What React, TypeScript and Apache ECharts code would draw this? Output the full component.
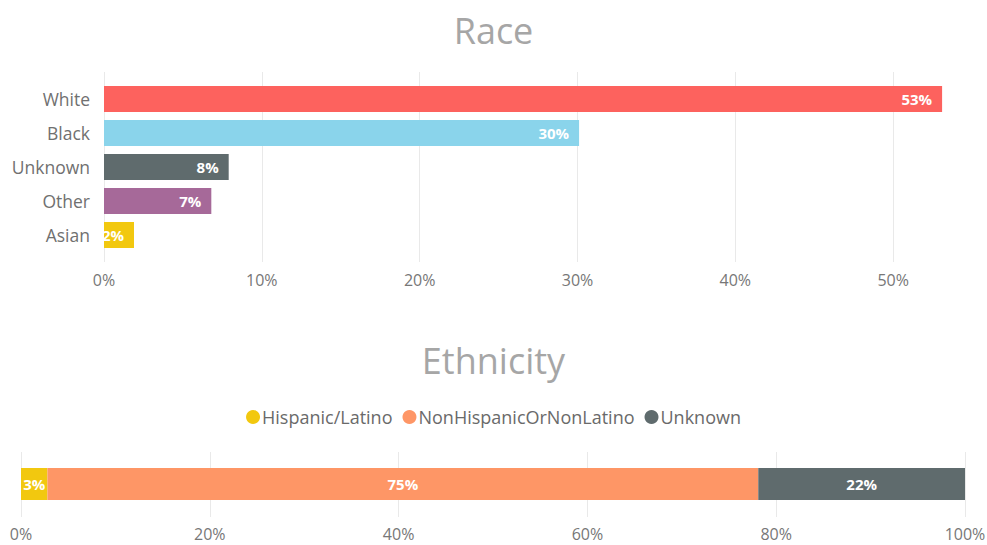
import React, { useEffect, useRef } from "react";
import * as echarts from "echarts";

const raceCategories = ["White", "Black", "Unknown", "Other", "Asian"];
const raceValues = [53.1, 30.1, 7.9, 6.8, 1.9];
const raceColors = ["#FD625E", "#8AD4EB", "#5F6B6D", "#A66999", "#F2C80F"];
const raceTicks = [0, 10, 20, 30, 40, 50, 60];

const ethnicityNames = ["Hispanic/Latino", "NonHispanicOrNonLatino", "Unknown"];
const ethnicityValues = [2.8, 75.3, 21.9];
const ethnicityColors = ["#F2C80F", "#FE9666", "#5F6B6D"];
const ethnicityTicks = [0, 20, 40, 60, 80, 100];

const FONT = "'Open Sans', 'Noto Sans', sans-serif";

export default function App() {
  const ref = useRef<HTMLDivElement>(null);
  useEffect(() => {
    if (!ref.current) return;
    const chart = echarts.init(ref.current, null, { renderer: "svg" });
    const axisLabel = { color: "#777", fontSize: 16, fontFamily: FONT, formatter: "{value}%" };
    const split = { show: true, lineStyle: { color: "#E9E9E9", width: 1 } };
    const option: any = {
      animation: false,
      backgroundColor: "#fff",
      title: [
        {
          text: "Race",
          left: "center",
          top: 7,
          textStyle: { color: "#A6A6A6", fontSize: 36, fontWeight: "normal", fontFamily: FONT },
        },
        {
          text: "Ethnicity",
          left: "center",
          top: 337,
          textStyle: { color: "#A6A6A6", fontSize: 36, fontWeight: "normal", fontFamily: FONT },
        },
      ],
      legend: {
        data: ethnicityNames,
        left: "center",
        top: 403,
        icon: "circle",
        itemWidth: 14,
        itemHeight: 14,
        itemGap: 10,
        textStyle: { color: "#6A6A6A", fontSize: 18, fontFamily: FONT, padding: [0, 0, 0, -3] },
      },
      grid: [
        { left: 104, top: 72, width: 947, height: 190, outerBoundsMode: "none" },
        { left: 104, top: 82, width: 947, height: 170, outerBoundsMode: "none" },
        { left: 21, top: 452, width: 944, height: 65, outerBoundsMode: "none" },
        { left: 21, top: 468, width: 944, height: 32, outerBoundsMode: "none" },
      ],
      xAxis: [
        {
          gridIndex: 0,
          type: "value",
          min: raceTicks[0],
          max: raceTicks[raceTicks.length - 1],
          interval: 10,
          axisLine: { show: false },
          axisTick: { show: false },
          axisLabel: { ...axisLabel, margin: 10, showMaxLabel: false },
          splitLine: split,
        },
        {
          gridIndex: 1,
          type: "value",
          min: raceTicks[0],
          max: raceTicks[raceTicks.length - 1],
          show: false,
          splitLine: { show: false },
        },
        {
          gridIndex: 2,
          type: "value",
          min: ethnicityTicks[0],
          max: ethnicityTicks[ethnicityTicks.length - 1],
          interval: 20,
          axisLine: { show: false },
          axisTick: { show: false },
          axisLabel: { ...axisLabel, margin: 9 },
          splitLine: split,
        },
        {
          gridIndex: 3,
          type: "value",
          min: ethnicityTicks[0],
          max: ethnicityTicks[ethnicityTicks.length - 1],
          show: false,
          splitLine: { show: false },
        },
      ],
      yAxis: [
        { gridIndex: 0, type: "value", show: false, splitLine: { show: false } },
        {
          gridIndex: 1,
          type: "category",
          inverse: true,
          data: raceCategories,
          axisLine: { show: false },
          axisTick: { show: false },
          axisLabel: { color: "#707070", fontSize: 17.5, fontFamily: FONT, margin: 14 },
        },
        { gridIndex: 2, type: "value", show: false, splitLine: { show: false } },
        { gridIndex: 3, type: "category", data: ["Ethnicity"], show: false },
      ],
      series: [
        {
          type: "bar",
          xAxisIndex: 1,
          yAxisIndex: 1,
          barWidth: 26,
          data: raceValues.map((v, i) => ({ value: v, itemStyle: { color: raceColors[i] } })),
          label: {
            show: true,
            position: "insideRight",
            distance: 10,
            color: "#fff",
            fontWeight: "bold",
            fontSize: 15,
            fontFamily: FONT,
            formatter: (p: any) => Math.round(p.value) + "%",
          },
        },
        ...ethnicityNames.map((name, i) => ({
          type: "bar",
          name,
          stack: "eth",
          xAxisIndex: 3,
          yAxisIndex: 3,
          barWidth: "100%",
          itemStyle: { color: ethnicityColors[i] },
          data: [ethnicityValues[i]],
          label: {
            show: true,
            position: "inside",
            color: "#fff",
            fontWeight: "bold",
            fontSize: 15,
            fontFamily: FONT,
            formatter: (p: any) => Math.round(p.value) + "%",
          },
        })),
      ],
    };
    chart.setOption(option);
    return () => chart.dispose();
  }, []);
  return (
    <div style={{ position: "fixed", left: 0, top: 0, width: 987, height: 545, overflow: "hidden", background: "#fff" }}>
      <div ref={ref} style={{ width: 987, height: 545 }} />
    </div>
  );
}
